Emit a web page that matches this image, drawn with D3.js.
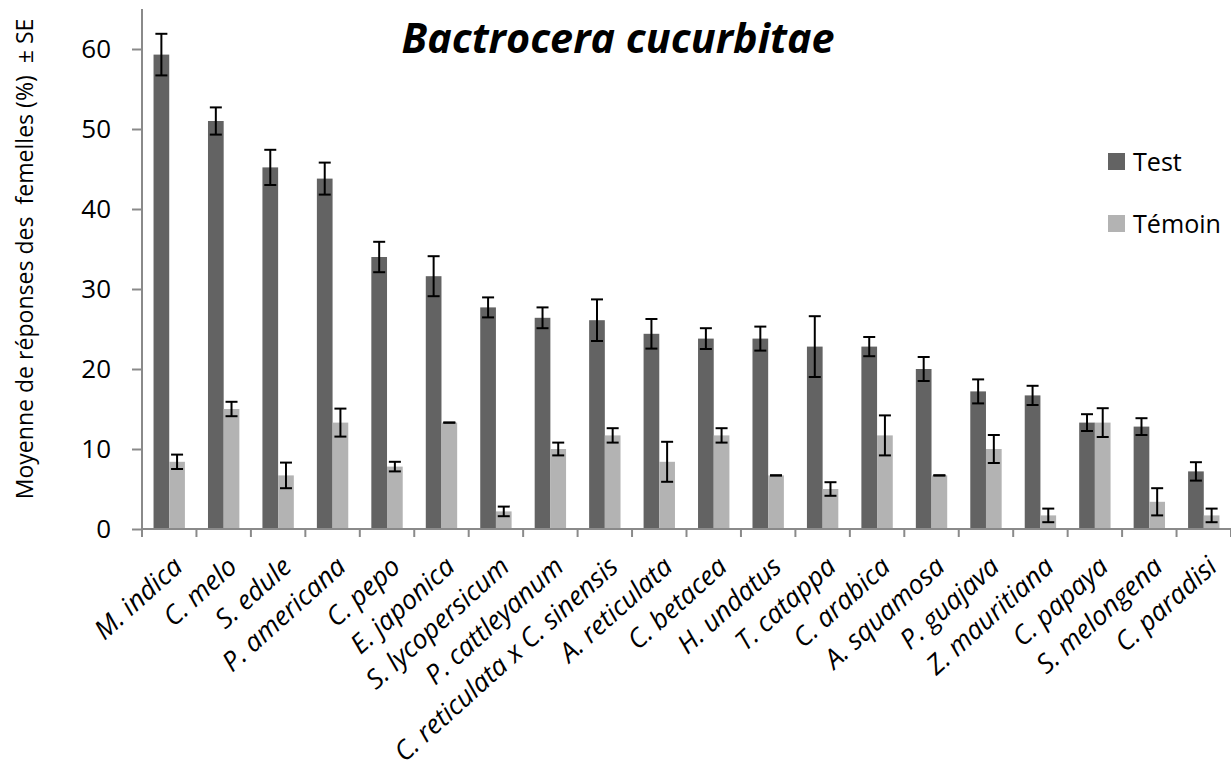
<!DOCTYPE html>
<html><head><meta charset="utf-8">
<script src="https://cdn.jsdelivr.net/npm/d3@7"></script>
<style>
html,body{margin:0;padding:0;background:#fff;}
svg{display:block;font-family:"Open Sans",sans-serif;}
</style></head>
<body><svg id="chart" width="1231" height="773"></svg>
<script>
const categories = ["M. indica","C. melo","S. edule","P. americana","C. pepo","E. japonica","S. lycopersicum","P. cattleyanum","C. reticulata x C. sinensis","A. reticulata","C. betacea","H. undatus","T. catappa","C. arabica","A. squamosa","P. guajava","Z. mauritiana","C. papaya","S. melongena","C. paradisi"];
const seriesNames = ["Test","Témoin"];
const testValues = [59.3,51.0,45.2,43.8,34.0,31.6,27.7,26.4,26.1,24.4,23.8,23.8,22.8,22.8,20.0,17.2,16.7,13.3,12.8,7.2];
const testSE = [2.6,1.7,2.2,2.0,1.9,2.5,1.25,1.3,2.6,1.85,1.3,1.5,3.8,1.2,1.5,1.5,1.2,1.05,1.05,1.15];
const temoinValues = [8.4,15.0,6.7,13.3,7.8,13.3,2.2,10.0,11.7,8.4,11.7,6.7,5.0,11.7,6.7,10.0,1.7,13.3,3.4,1.7];
const temoinSE = [0.9,0.9,1.6,1.75,0.6,0,0.6,0.8,0.9,2.5,0.9,0,0.85,2.5,0,1.75,0.85,1.8,1.7,0.85];
const yTicks = [0,10,20,30,40,50,60];
const title = "Bactrocera cucurbitae";
const yTitle = "Moyenne de réponses des  femelles (%)  ± SE";

const colors = {"Test":"#636363","Témoin":"#b3b3b3"};
const axisColor = "#8a8a8a";

const svg = d3.select("#chart");
const pLeft = 142, pRight = 1231, pTop = 9, pBottom = 529;

function fit(sel, target){
  const n = sel.node();
  const fs = parseFloat(sel.attr("font-size"));
  const w = n.getComputedTextLength();
  if (w > 0) sel.attr("font-size", (fs*target/w).toFixed(2));
  return parseFloat(sel.attr("font-size"));
}

const y = d3.scaleLinear().domain([0,65]).range([pBottom, pTop]);
const x0 = d3.scaleBand().domain(categories).range([pLeft, pRight]).paddingInner(0).paddingOuter(0);
const x1 = d3.scaleBand().domain(seriesNames).range([0, x0.bandwidth()]).paddingInner(0).paddingOuter(0.735);

const rows = categories.map((c,i)=>({cat:c, vals:[
  {s:"Test", v:testValues[i], se:testSE[i]},
  {s:"Témoin", v:temoinValues[i], se:temoinSE[i]}
]}));

// bars
const g = svg.append("g");
const groups = g.selectAll("g.cat").data(rows).join("g")
  .attr("transform", d=>`translate(${x0(d.cat)},0)`);
groups.selectAll("rect").data(d=>d.vals).join("rect")
  .attr("x", d=>x1(d.s))
  .attr("width", x1.bandwidth())
  .attr("y", d=>y(d.v))
  .attr("height", d=>y(0)-y(d.v))
  .attr("fill", d=>colors[d.s]);

// error bars
const capW = 6;
groups.selectAll("g.err").data(d=>d.vals).join("g").attr("class","err")
  .each(function(d){
    const gg = d3.select(this);
    const cx = x1(d.s) + x1.bandwidth()/2;
    const yt = y(d.v + d.se), yb = y(d.v - d.se);
    gg.append("line").attr("x1",cx).attr("x2",cx).attr("y1",yt).attr("y2",yb)
      .attr("stroke","#000").attr("stroke-width",2);
    [yt,yb].forEach(yy=>gg.append("line").attr("x1",cx-capW).attr("x2",cx+capW)
      .attr("y1",yy).attr("y2",yy).attr("stroke","#000").attr("stroke-width",2));
  });

// y axis
const yAxis = d3.axisLeft(y).tickValues(yTicks).tickSize(10).tickPadding(21).tickFormat(d3.format("d"));
const ya = svg.append("g").attr("transform",`translate(${pLeft},0)`).call(yAxis);
ya.select(".domain").attr("stroke",axisColor).attr("stroke-width",2).attr("d",`M0,${pTop}V${pBottom}`);
ya.selectAll(".tick line").attr("stroke",axisColor).attr("stroke-width",2);
ya.selectAll(".tick text").attr("font-family","Open Sans").attr("font-size",26).attr("fill","#000");

// x axis
const xa = svg.append("g").attr("transform",`translate(0,${pBottom})`);
xa.append("line").attr("x1",pLeft).attr("x2",pRight).attr("y1",0).attr("y2",0)
  .attr("stroke",axisColor).attr("stroke-width",2);
const bounds = categories.map(c=>x0(c)).concat([pRight]);
xa.selectAll("line.tk").data(bounds).join("line").attr("class","tk")
  .attr("x1",d=>d).attr("x2",d=>d).attr("y1",0).attr("y2",8)
  .attr("stroke",axisColor).attr("stroke-width",2);
const xl = xa.selectAll("text").data(categories).join("text")
  .attr("text-anchor","end")
  .attr("font-style","italic")
  .attr("font-size",22)
  .text(d=>d);
const xfs = fit(xl.filter(d=>d==="C. reticulata x C. sinensis"), 290);
xl.attr("font-size", xfs)
  .attr("transform", d=>`translate(${x0(d)+x0.bandwidth()/2+15},${40}) rotate(-42)`);

// title
const t = svg.append("text").attr("x",618).attr("y",53).attr("text-anchor","middle")
  .attr("font-weight","bold").attr("font-style","italic").attr("font-size",40)
  .text(title);
fit(t, 433);

// y title
const yt = svg.append("text").attr("transform","translate(33,259) rotate(-90)")
  .attr("text-anchor","middle").attr("font-size",21)
  .style("white-space","pre")
  .text(yTitle);
fit(yt, 481);

// legend
const leg = svg.append("g");
const legTexts = [];
seriesNames.forEach((s,i)=>{
  const ly = 153 + i*62;
  leg.append("rect").attr("x",1108).attr("y",ly).attr("width",17).attr("height",17).attr("fill",colors[s]);
  legTexts.push(leg.append("text").attr("x",1133).attr("y",ly+18).attr("font-size",24).text(s));
});
const lfs = fit(legTexts[1], 88);
legTexts[0].attr("font-size", lfs);
</script></body></html>
